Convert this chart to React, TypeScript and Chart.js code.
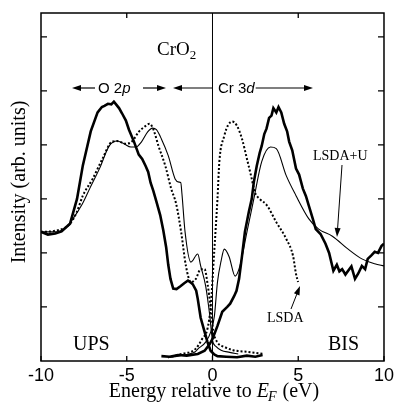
import { useEffect, useRef } from "react";
import { Chart, registerables } from "chart.js";

Chart.register(...registerables);

// Experimental UPS spectrum (thick)
const upsExpEnergy = [-10, -9.6, -9.17, -8.8, -8.31, -7.9, -7.56, -7.1, -6.7, -6.45, -6.3, -6.1, -5.9, -5.75, -5.6, -5.45, -5.27, -5.05, -4.87, -4.58, -4.3, -4.1, -3.9, -3.75, -3.61, -3.45, -3.27, -3.05, -2.87, -2.7, -2.58, -2.45, -2.29, -2.1, -1.89, -1.65, -1.43, -1.3, -1.15, -0.95, -0.86, -0.69, -0.46, -0.29, -0.11, 0.1, 0.29, 0.8, 1.43, 2.0, 2.5, 2.92];
const upsExpIntensity = [2.39, 2.34, 2.36, 2.4, 2.54, 3.0, 3.62, 4.25, 4.6, 4.7, 4.72, 4.76, 4.75, 4.8, 4.74, 4.68, 4.58, 4.45, 4.28, 4.06, 3.82, 3.74, 3.61, 3.5, 3.3, 3.15, 2.95, 2.7, 2.42, 2.1, 1.78, 1.52, 1.34, 1.33, 1.38, 1.44, 1.49, 1.46, 1.42, 1.3, 1.15, 0.8, 0.54, 0.35, 0.19, 0.12, 0.09, 0.08, 0.07, 0.1, 0.08, 0.11];

// Experimental BIS spectrum (thick)
const bisExpEnergy = [-2.98, -2.5, -2.01, -1.5, -0.86, -0.46, -0.17, 0, 0.29, 0.57, 0.86, 1.03, 1.26, 1.4, 1.55, 1.72, 1.89, 2.12, 2.29, 2.41, 2.58, 2.75, 2.87, 3.02, 3.15, 3.3, 3.44, 3.55, 3.72, 3.85, 4.01, 4.18, 4.35, 4.47, 4.65, 4.87, 5.05, 5.27, 5.45, 5.62, 5.85, 6.02, 6.3, 6.59, 6.8, 7.05, 7.25, 7.4, 7.56, 7.75, 7.91, 8.1, 8.31, 8.5, 8.71, 8.9, 9.05, 9.25, 9.46, 9.65, 9.86, 10];
const bisExpIntensity = [0.09, 0.08, 0.11, 0.1, 0.13, 0.19, 0.31, 0.41, 0.65, 0.91, 1.0, 1.06, 1.2, 1.3, 1.52, 1.94, 2.39, 2.76, 3.0, 3.31, 3.61, 3.85, 3.98, 4.2, 4.3, 4.5, 4.54, 4.68, 4.6, 4.7, 4.6, 4.39, 4.25, 4.06, 3.9, 3.56, 3.45, 3.19, 3.05, 2.87, 2.63, 2.44, 2.35, 2.17, 2.0, 1.67, 1.78, 1.66, 1.7, 1.6, 1.67, 1.75, 1.52, 1.62, 1.76, 1.7, 1.89, 1.95, 2.02, 2.0, 2.13, 2.17];

// LSDA+U (thin) occupied part
const ldauUpsEnergy = [-10, -9.17, -8.6, -8.14, -7.6, -7.16, -6.59, -6.02, -5.56, -5.16, -4.76, -4.47, -4.13, -3.78, -3.5, -3.27, -2.98, -2.58, -2.18, -1.95, -1.85, -1.78, -1.6, -1.26, -0.86, -0.69, -0.4, -0.17, 0, 0.2, 0.5, 1.0, 1.5];
const ldauUpsIntensity = [2.39, 2.39, 2.45, 2.63, 2.9, 3.19, 3.56, 3.98, 4.07, 4.02, 3.96, 3.96, 4.06, 4.24, 4.31, 4.28, 4.11, 3.8, 3.37, 3.31, 3.3, 3.09, 2.39, 1.83, 1.98, 1.76, 1.39, 0.87, 0.38, 0.27, 0.2, 0.16, 0.13];

// LSDA+U (thin) unoccupied part
const ldauBisEnergy = [-2.6, -2.0, -1.5, -1.0, -0.86, -0.4, -0.1, 0.11, 0.29, 0.5, 0.69, 0.97, 1.32, 1.6, 2.01, 2.41, 2.87, 3.38, 3.72, 4.3, 4.87, 5.62, 6.19, 6.99, 7.91, 8.71, 9.46, 10];
const ldauBisIntensity = [0.06, 0.09, 0.12, 0.17, 0.22, 0.35, 0.54, 0.83, 1.46, 1.85, 2.07, 1.93, 1.57, 1.76, 2.39, 3.0, 3.69, 3.96, 3.93, 3.43, 3.06, 2.63, 2.44, 2.31, 2.07, 1.89, 1.8, 1.76];

// LSDA (dotted) occupied part
const lsdaUpsEnergy = [-10, -9.17, -8.31, -7.91, -7.56, -6.99, -6.42, -5.85, -5.56, -5.04, -4.7, -4.3, -3.9, -3.67, -3.44, -3.15, -2.75, -2.41, -2.12, -1.83, -1.55, -1.26, -0.97, -0.69, -0.46, -0.29, -0.11, 0.05, 0.3, 0.7, 1.2, 2.0, 3.0];
const lsdaUpsIntensity = [2.39, 2.41, 2.54, 2.76, 3.06, 3.37, 3.74, 4.06, 4.07, 4.02, 4.06, 4.24, 4.35, 4.39, 4.28, 3.98, 3.61, 3.19, 2.91, 2.39, 1.76, 1.46, 1.52, 1.7, 1.7, 1.43, 1.0, 0.55, 0.34, 0.26, 0.2, 0.17, 0.13];

// LSDA (dotted) unoccupied part
const lsdaBisEnergy = [-2.6, -1.8, -1.0, -0.6, -0.29, -0.11, 0.11, 0.29, 0.4, 0.69, 0.92, 1.15, 1.43, 1.72, 2.01, 2.29, 2.46, 2.75, 3.15, 3.72, 4.3, 4.7, 4.87, 4.99];
const lsdaBisIntensity = [0.07, 0.13, 0.22, 0.41, 0.6, 1.0, 2.07, 3.0, 3.69, 4.17, 4.37, 4.43, 4.35, 4.11, 3.74, 3.37, 3.13, 3.0, 2.89, 2.57, 2.26, 1.94, 1.61, 1.46];

const xTickValues = [-10, -5, 0, 5, 10];
const yTickValues = [1, 2, 3, 4, 5, 6];
const topTickValues = [-5, 5];

const toPts = (xs: number[], ys: number[]) => xs.map((x, i) => ({ x, y: ys[i] }));

const SERIF = "'Liberation Serif', 'Times New Roman', serif";
const SANS = "'Liberation Sans', Arial, sans-serif";

const decorPlugin = {
  id: "decor",
  afterDatasetsDraw(chart: any) {
    const { ctx, chartArea: a, scales } = chart;
    const xs = scales.x;
    const ys = scales.y;
    ctx.save();
    ctx.strokeStyle = "#000";
    ctx.fillStyle = "#000";
    // frame
    ctx.lineWidth = 1.5;
    ctx.strokeRect(a.left, a.top, a.right - a.left, a.bottom - a.top);
    // zero line
    ctx.lineWidth = 1;
    const x0 = xs.getPixelForValue(0);
    ctx.beginPath();
    ctx.moveTo(x0, a.top);
    ctx.lineTo(x0, a.bottom);
    ctx.stroke();
    // ticks
    ctx.lineWidth = 1.3;
    ctx.beginPath();
    yTickValues.forEach((v) => {
      const y = ys.getPixelForValue(v);
      ctx.moveTo(a.left, y);
      ctx.lineTo(a.left + 6, y);
      ctx.moveTo(a.right, y);
      ctx.lineTo(a.right - 6, y);
    });
    xTickValues.forEach((v) => {
      const x = xs.getPixelForValue(v);
      ctx.moveTo(x, a.bottom);
      ctx.lineTo(x, a.bottom - 5);
    });
    topTickValues.forEach((v) => {
      const x = xs.getPixelForValue(v);
      ctx.moveTo(x, a.top);
      ctx.lineTo(x, a.top + 5);
    });
    ctx.stroke();

    const arrow = (x1: number, y: number, x2: number) => {
      ctx.lineWidth = 1.2;
      const dir = Math.sign(x2 - x1);
      ctx.beginPath();
      ctx.moveTo(x1, y);
      ctx.lineTo(x2 - dir * 6, y);
      ctx.stroke();
      ctx.beginPath();
      ctx.moveTo(x2, y);
      ctx.lineTo(x2 - dir * 9, y - 3);
      ctx.lineTo(x2 - dir * 9, y + 3);
      ctx.closePath();
      ctx.fill();
    };
    const arrowLine = (x1: number, y1: number, x2: number, y2: number) => {
      ctx.lineWidth = 1;
      const ang = Math.atan2(y2 - y1, x2 - x1);
      ctx.beginPath();
      ctx.moveTo(x1, y1);
      ctx.lineTo(x2 - 5 * Math.cos(ang), y2 - 5 * Math.sin(ang));
      ctx.stroke();
      ctx.beginPath();
      ctx.moveTo(x2, y2);
      ctx.lineTo(x2 - 9 * Math.cos(ang) + 3 * Math.sin(ang), y2 - 9 * Math.sin(ang) - 3 * Math.cos(ang));
      ctx.lineTo(x2 - 9 * Math.cos(ang) - 3 * Math.sin(ang), y2 - 9 * Math.sin(ang) + 3 * Math.cos(ang));
      ctx.closePath();
      ctx.fill();
    };

    // O 2p / Cr 3d band labels
    const ay = 88;
    arrow(95, ay, 72);
    ctx.textBaseline = "alphabetic";
    ctx.textAlign = "left";
    ctx.font = `15px ${SANS}`;
    ctx.fillText("O 2", 98, 93);
    const w1 = ctx.measureText("O 2").width;
    ctx.font = `italic 15px ${SANS}`;
    ctx.fillText("p", 98 + w1, 93);
    arrow(143, ay, 166);
    arrow(x0, ay, 173);
    ctx.font = `15px ${SANS}`;
    ctx.fillText("Cr 3", 218, 93);
    const w2 = ctx.measureText("Cr 3").width;
    ctx.font = `italic 15px ${SANS}`;
    ctx.fillText("d", 218 + w2, 93);
    const w3 = ctx.measureText("d").width;
    arrow(218 + w2 + w3 + 1, ay, 313);

    // CrO2
    ctx.font = `19px ${SERIF}`;
    ctx.fillText("CrO", 157, 55);
    const wc = ctx.measureText("CrO").width;
    ctx.font = `13px ${SERIF}`;
    ctx.fillText("2", 157 + wc, 59);

    // UPS / BIS
    ctx.font = `20px ${SERIF}`;
    ctx.fillText("UPS", 73, 350);
    ctx.fillText("BIS", 328, 350);

    // LSDA+U
    ctx.font = `14px ${SERIF}`;
    ctx.fillText("LSDA+U", 313, 160);
    arrowLine(342, 165, 337, 237);
    ctx.fillText("LSDA", 267, 322);
    arrowLine(291, 309, 300, 286);

    // Axis titles
    ctx.font = `20px ${SERIF}`;
    ctx.textAlign = "center";
    ctx.save();
    ctx.translate(20, 182);
    ctx.rotate(-Math.PI / 2);
    ctx.textBaseline = "middle";
    ctx.fillText("Intensity (arb. units)", 0, 0);
    ctx.restore();

    ctx.textAlign = "left";
    ctx.textBaseline = "alphabetic";
    const p1 = "Energy relative to ";
    const p3 = " (eV)";
    ctx.font = `20px ${SERIF}`;
    const wp1 = ctx.measureText(p1).width;
    const wp3 = ctx.measureText(p3).width;
    ctx.font = `italic 20px ${SERIF}`;
    const wE = ctx.measureText("E").width;
    ctx.font = `italic 14px ${SERIF}`;
    const wF = ctx.measureText("F").width;
    const total = wp1 + wE + wF + wp3;
    let cx = 214 - total / 2;
    const by = 397;
    ctx.font = `20px ${SERIF}`;
    ctx.fillText(p1, cx, by);
    cx += wp1;
    ctx.font = `italic 20px ${SERIF}`;
    ctx.fillText("E", cx, by);
    cx += wE;
    ctx.font = `italic 14px ${SERIF}`;
    ctx.fillText("F", cx - 1, by + 4);
    cx += wF;
    ctx.font = `20px ${SERIF}`;
    ctx.fillText(p3, cx, by);
    ctx.restore();
  },
};

export default function App() {
  const ref = useRef<HTMLCanvasElement | null>(null);
  useEffect(() => {
    if (!ref.current) return;
    const thick = { borderColor: "#000", borderWidth: 2.6, pointRadius: 0, tension: 0, fill: false };
    const thin = { borderColor: "#000", borderWidth: 1.1, pointRadius: 0, cubicInterpolationMode: "monotone" as const, fill: false };
    const dotted = { borderColor: "#000", borderWidth: 2, borderDash: [2, 2], pointRadius: 0, cubicInterpolationMode: "monotone" as const, fill: false };
    const chart = new Chart(ref.current, {
      type: "line",
      data: {
        datasets: [
          { label: "UPS", data: toPts(upsExpEnergy, upsExpIntensity), ...thick },
          { label: "BIS", data: toPts(bisExpEnergy, bisExpIntensity), ...thick },
          { label: "LSDA+U occ", data: toPts(ldauUpsEnergy, ldauUpsIntensity), ...thin },
          { label: "LSDA+U unocc", data: toPts(ldauBisEnergy, ldauBisIntensity), ...thin },
          { label: "LSDA occ", data: toPts(lsdaUpsEnergy, lsdaUpsIntensity), ...dotted },
          { label: "LSDA unocc", data: toPts(lsdaBisEnergy, lsdaBisIntensity), ...dotted },
        ],
      },
      options: {
        animation: false,
        responsive: false,
        maintainAspectRatio: false,
        parsing: false,
        layout: { padding: { top: 13, right: 7, left: 0, bottom: 0 } },
        plugins: { legend: { display: false }, tooltip: { enabled: false }, title: { display: false } },
        scales: {
          x: {
            type: "linear",
            min: -10,
            max: 10,
            afterFit: (s: any) => { s.height = 41; },
            afterBuildTicks: (s: any) => { s.ticks = xTickValues.map((v) => ({ value: v })); },
            grid: { display: false, drawTicks: false },
            border: { display: false },
            ticks: { color: "#000", font: { family: "'Liberation Sans', Arial, sans-serif", size: 18 }, padding: 4, maxRotation: 0, autoSkip: false },
          },
          y: {
            type: "linear",
            min: 0,
            max: 6.44,
            afterFit: (s: any) => { s.width = 41; },
            grid: { display: false, drawTicks: false },
            border: { display: false },
            ticks: { display: false },
          },
        },
      },
      plugins: [decorPlugin],
    });
    return () => chart.destroy();
  }, []);
  return (
    <div style={{ position: "absolute", left: 0, top: 0, width: 398, height: 402, background: "#fff" }}>
      <canvas ref={ref} width={398} height={402} style={{ width: 398, height: 402, display: "block" }} />
    </div>
  );
}
